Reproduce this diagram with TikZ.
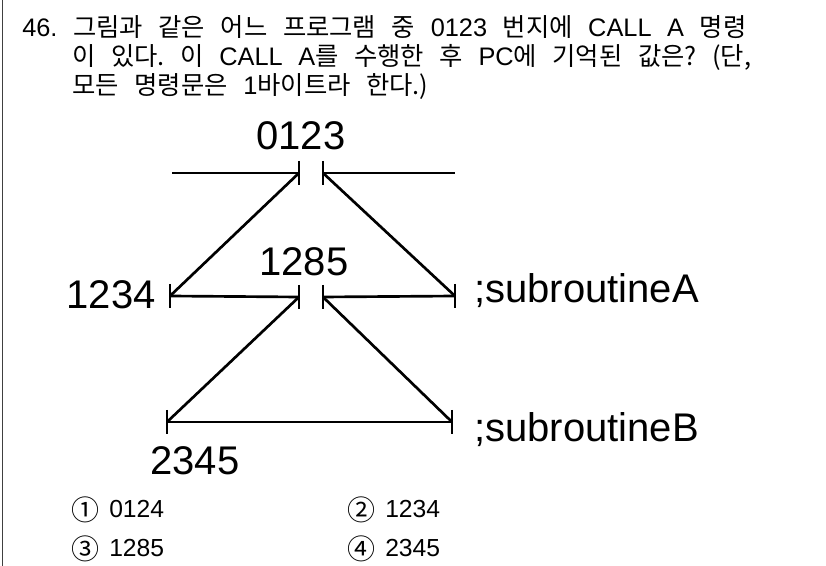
\documentclass[tikz,border=0pt]{standalone}
\usepackage{fontspec}
\setmainfont{Liberation Sans}
\newfontfamily\krfont{Noto Sans CJK KR}
\newfontfamily\latfont{Liberation Sans}
\newcommand\widespaces[1]{\spaceskip=#1\relax\xspaceskip=#1\relax}
\newcommand\bignum[1]{\raisebox{-2.2pt}{\fontsize{21}{21}\selectfont #1}}
\tikzset{
  wire/.style = {line width=2pt},
  lab/.style = {inner sep=0pt, font=\fontsize{30}{36}\selectfont},
  qline/.style = {anchor=base west, inner sep=0pt,
    font=\krfont\fontsize{19}{23}\selectfont\widespaces{11.7pt}},
  opt/.style = {anchor=base west, inner sep=0pt,
    font=\krfont\fontsize{18.5}{22}\selectfont\widespaces{7.5pt}},
}

\begin{document}
\begin{tikzpicture}[x=0.75pt, y=-0.75pt]
  \useasboundingbox (0,0) rectangle (826,566);
  \draw [black!75, line width=1pt] (2.5,0) -- (2.5,566);

  \node (q1) [qline] at (22,37) {{\latfont 46.} 그림과 같은 어느 프로그램 중 {\latfont 0123} 번지에 {\latfont CALL A} 명령};
  \node (q2) [qline] at (72,66) {이 있다. 이 {\latfont CALL A}를 수행한 후 {\latfont PC}에 기억된 값은? (단,};
  \node (q3) [qline] at (72,95) {모든 명령문은 {\latfont 1}바이트라 한다.)};

  \coordinate (S)  at (172,173);
  \coordinate (T1) at (299,173);
  \coordinate (T2) at (323,173);
  \coordinate (E)  at (455,173);
  \coordinate (M1) at (170,296);
  \coordinate (C1) at (299,297);
  \coordinate (C2) at (323,297);
  \coordinate (M2) at (455,296);
  \coordinate (B1) at (167,422);
  \coordinate (B2) at (452,422);

  \foreach \p in {T1,T2,M1,C1,C2,M2,B1,B2}
    \draw [wire] (\p) ++(0,-12) -- ++(0,24);

  \draw [wire] (S) -- (T1);
  \draw [wire] (T2) -- (E);
  \draw [wire] (M1) -- (T1);
  \draw [wire] (T2) -- (M2);
  \draw [wire] (M1) -- (C1);
  \draw [wire] (C2) -- (M2);
  \draw [wire] (B1) -- (C1);
  \draw [wire] (C2) -- (B2);
  \draw [wire] (B1) -- (B2);

  \node (a0123) [lab] at (301,136) {0123};
  \node (a1285) [lab] at (304,262) {1285};
  \node (a1234) [lab, anchor=east] at (156,295) {1234};
  \node (a2345) [lab] at (195,461) {2345};
  \node (subA) [lab, anchor=base west] at (474,303) {;subroutineA};
  \node (subB) [lab, anchor=base west] at (474,442) {;subroutineB};

  \node (o1) [opt] at (71,518) {\bignum{①} {\latfont 0124}};
  \node (o2) [opt] at (347,518) {\bignum{②} {\latfont 1234}};
  \node (o3) [opt] at (71,557) {\bignum{③} {\latfont 1285}};
  \node (o4) [opt] at (347,557) {\bignum{④} {\latfont 2345}};
\end{tikzpicture}
\end{document}
